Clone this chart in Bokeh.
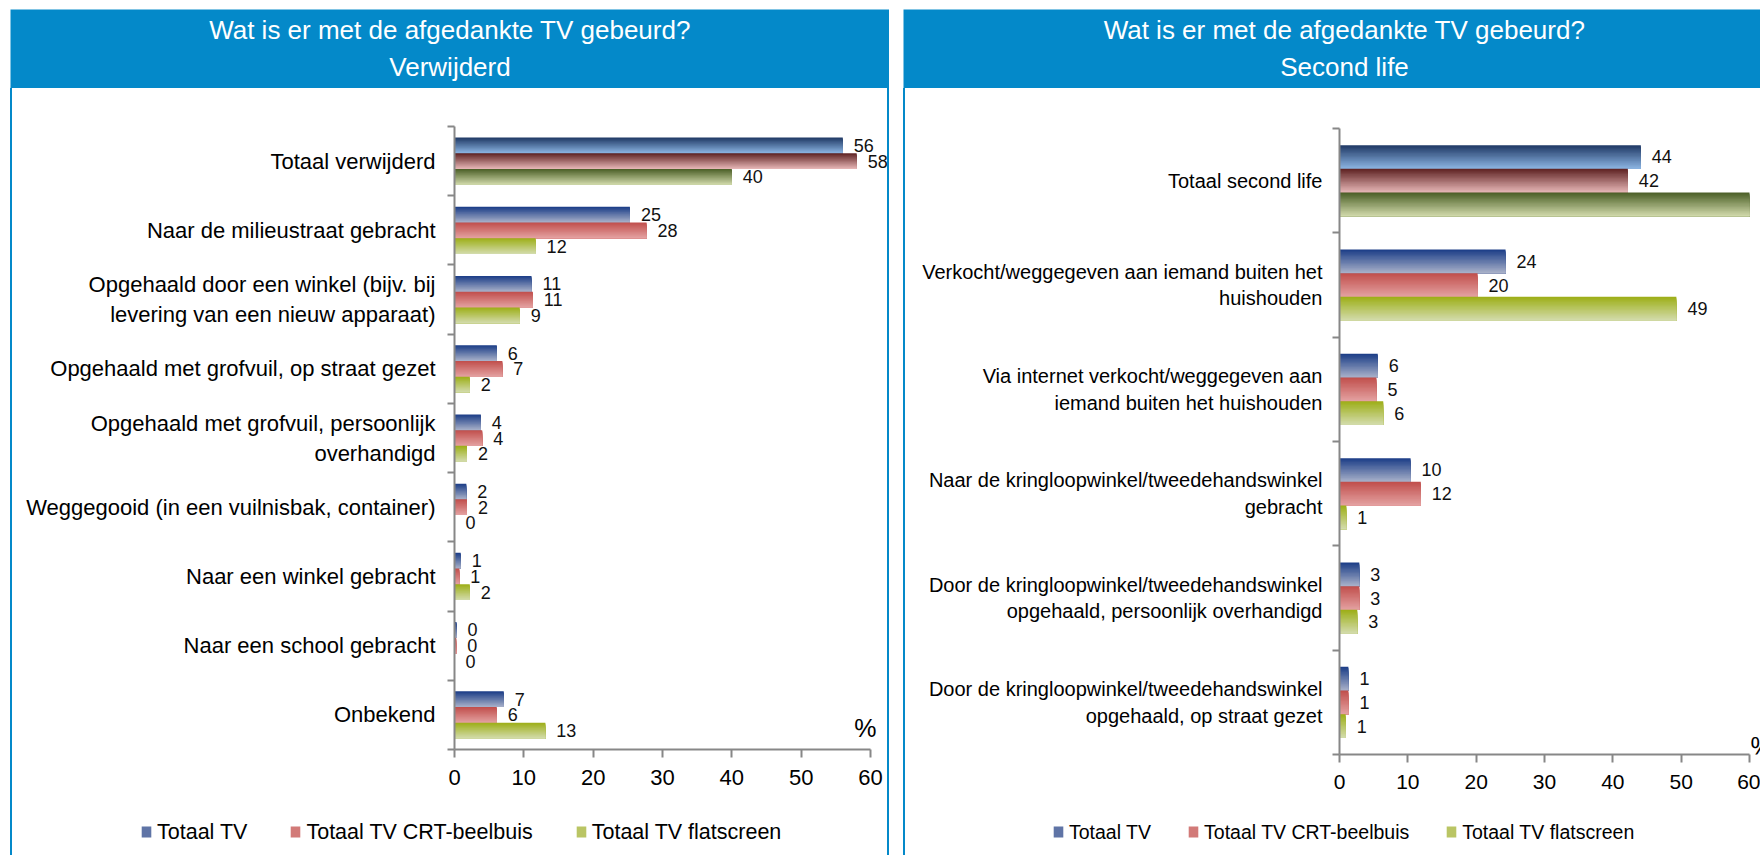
from bokeh.plotting import figure
from bokeh.models import (Range1d, FixedTicker, ColumnDataSource, Legend, LegendItem,
                          Label, Spacer)
from bokeh.layouts import row, column
from bokeh.embed import file_html
from bokeh.resources import INLINE
from bokeh.core.properties import value

# ---------------- data ----------------
title_main = "Wat is er met de afgedankte TV gebeurd?"
left_subtitle = "Verwijderd"
right_subtitle = "Second life"

series_names = ["Totaal TV", "Totaal TV CRT-beelbuis", "Totaal TV flatscreen"]

left_categories = [
    "Totaal verwijderd",
    "Naar de milieustraat gebracht",
    "Opgehaald door een winkel (bijv. bij\nlevering van een nieuw apparaat)",
    "Opgehaald met grofvuil, op straat gezet",
    "Opgehaald met grofvuil, persoonlijk\noverhandigd",
    "Weggegooid (in een vuilnisbak, container)",
    "Naar een winkel gebracht",
    "Naar een school gebracht",
    "Onbekend",
]
left_totaal_tv = [56.0, 25.3, 11.1, 6.1, 3.8, 1.7, 0.9, 0.3, 7.1]
left_crt = [58.0, 27.7, 11.3, 6.9, 4.0, 1.8, 0.7, 0.25, 6.1]
left_flat = [40.0, 11.7, 9.4, 2.2, 1.8, 0.0, 2.2, 0.0, 13.1]

right_categories = [
    "Totaal second life",
    "Verkocht/weggegeven aan iemand buiten het\nhuishouden",
    "Via internet verkocht/weggegeven aan\niemand buiten het huishouden",
    "Naar de kringloopwinkel/tweedehandswinkel\ngebracht",
    "Door de kringloopwinkel/tweedehandswinkel\nopgehaald, persoonlijk overhandigd",
    "Door de kringloopwinkel/tweedehandswinkel\nopgehaald, op straat gezet",
]
right_totaal_tv = [44.1, 24.3, 5.6, 10.4, 2.9, 1.3]
right_crt = [42.2, 20.2, 5.4, 11.9, 2.9, 1.3]
right_flat = [60.0, 49.3, 6.4, 1.0, 2.6, 0.9]

x_ticks = [0, 10, 20, 30, 40, 50, 60]
x_max = 60
unit_label = "%"

# ---------------- styles ----------------
BLUE = "#0489C9"
AXIS = "#878787"
FONT = "Liberation Sans"

# gradients (top colour, bottom colour) : first category uses a darker variant
grad_first = [((0x1F, 0x38, 0x64), (0x8D, 0xB6, 0xE4)),
              ((0x5E, 0x22, 0x22), (0xE8, 0xB8, 0xB8)),
              ((0x4A, 0x5E, 0x26), (0xD2, 0xDA, 0xAC))]
grad_rest = [((0x1A, 0x3C, 0x86), (0xAA, 0xB2, 0xCA)),
             ((0xC0, 0x4E, 0x4B), (0xE4, 0xA2, 0xA2)),
             ((0x9C, 0xAE, 0x16), (0xD4, 0xDC, 0xAE))]
legend_colors = ["#5F74A6", "#D27A78", "#BAC564"]
NSTRIPS = 18


def lerp(c1, c2, t):
    return "#%02x%02x%02x" % tuple(int(round(a + (b - a) * t)) for a, b in zip(c1, c2))


def no_align(fig):
    try:
        fig.frame_align = False
    except Exception:
        pass


def header(width, cx, subtitle):
    h = figure(width=width, height=79, x_range=Range1d(0, width), y_range=Range1d(0, 79),
               toolbar_location=None, output_backend="svg", min_border=0,
               x_axis_location=None, y_axis_location=None)
    no_align(h)
    h.grid.visible = False
    h.background_fill_color = BLUE
    h.border_fill_color = BLUE
    h.outline_line_color = None
    for yy, txt in ((59, title_main), (21.5, subtitle)):
        h.add_layout(Label(x=cx, y=yy, text=txt, text_align="center", text_baseline="middle",
                           text_color="white", text_font=FONT, text_font_size="26px"))
    return h


def chart(width, height, cats, series, mb, axis_px, cat_fs, tick_fs, val_fs,
          pct_align, pct_off, y_standoff):
    n = len(cats)
    frame_w = width - mb[0] - mb[1]
    x_end = x_max * frame_w / axis_px
    p = figure(width=width, height=height, x_range=Range1d(0, x_end), y_range=Range1d(0, n),
               toolbar_location=None, output_backend="svg",
               min_border_left=mb[0], min_border_right=mb[1], min_border_top=mb[2],
               min_border_bottom=mb[3])
    no_align(p)
    p.grid.visible = False
    p.outline_line_color = None
    p.background_fill_color = "white"
    p.border_fill_color = "white"

    centers = [n - i - 0.5 for i in range(n)]
    bar_h = 0.227
    for k, vals in enumerate(series):
        off = (1 - k) * bar_h
        for j in range(NSTRIPS):
            t = (j + 0.5) / NSTRIPS
            tops = [c + off + bar_h / 2 - j * bar_h / NSTRIPS for c in centers]
            bots = [c + off - bar_h / 2 for c in centers]
            cols = [lerp(*(grad_first[k] if i == 0 else grad_rest[k]), t) for i in range(n)]
            src = ColumnDataSource(dict(top=tops, bottom=bots, right=vals, color=cols))
            p.quad(left=0, right="right", top="top", bottom="bottom",
                   fill_color="color", line_color=None, source=src)
        lsrc = ColumnDataSource(dict(x=vals, y=[c + off for c in centers],
                                     text=[str(int(round(v))) for v in vals]))
        p.text(x="x", y="y", text="text", source=lsrc, x_offset=11, text_align="left",
               text_baseline="middle", text_font=value(FONT), text_font_size=val_fs,
               text_color="#111111")

    ya = p.yaxis[0]
    ya.ticker = FixedTicker(ticks=centers, minor_ticks=list(range(n + 1)))
    ya.major_label_overrides = {c: lab for c, lab in zip(centers, cats)}
    ya.major_tick_line_color = None
    ya.major_tick_out = 0
    ya.major_tick_in = 0
    ya.minor_tick_line_color = AXIS
    ya.minor_tick_line_width = 2
    ya.minor_tick_out = 7
    ya.minor_tick_in = 0
    ya.axis_line_color = AXIS
    ya.axis_line_width = 2
    ya.major_label_standoff = y_standoff
    ya.major_label_text_font = FONT
    ya.major_label_text_font_size = cat_fs
    ya.major_label_text_color = "black"

    xa = p.xaxis[0]
    xa.ticker = FixedTicker(ticks=x_ticks)
    xa.bounds = (0, x_max)
    xa.major_tick_line_color = AXIS
    xa.major_tick_line_width = 2
    xa.major_tick_out = 8
    xa.major_tick_in = 0
    xa.minor_tick_line_color = None
    xa.axis_line_color = AXIS
    xa.axis_line_width = 2
    xa.major_label_standoff = 12
    xa.major_label_text_font = FONT
    xa.major_label_text_font_size = tick_fs
    xa.major_label_text_color = "black"

    p.add_layout(Label(x=x_max, y=0, text=unit_label, text_align=pct_align,
                       text_baseline="alphabetic", x_offset=pct_off[0], y_offset=pct_off[1],
                       text_font=FONT, text_font_size="25px", text_color="black"))
    return p


def legend_fig(width, height, left_margin, fs, spacing, series):
    lf = figure(width=width, height=height, x_range=Range1d(0, 1), y_range=Range1d(0, 1),
                toolbar_location=None, output_backend="svg", min_border=0,
                x_axis_location=None, y_axis_location=None)
    no_align(lf)
    lf.grid.visible = False
    lf.outline_line_color = None
    items = []
    for nm, col, vals in zip(series_names, legend_colors, series):
        # zero-height proxy bars: invisible, only give the legend its swatch colour
        r = lf.hbar(y=0, left=0, right=vals, height=0, fill_color=col, line_color=None)
        items.append(LegendItem(label=nm, renderers=[r]))
    leg = Legend(items=items, orientation="horizontal", location="left",
                 glyph_width=12, glyph_height=14, label_standoff=5, spacing=spacing,
                 padding=0, margin=left_margin, border_line_color=None,
                 background_fill_alpha=0,
                 label_text_font=FONT, label_text_font_size=fs, label_text_color="black")
    lf.add_layout(leg)
    return lf


CH = 720   # chart canvas height
LH = 47    # legend strip height

left_series = [left_totaal_tv, left_crt, left_flat]
right_series = [right_totaal_tv, right_crt, right_flat]

left_chart = chart(875, CH, left_categories, left_series,
                   (442, 0, 38, 59), 416, "22px", "22px", "18px", "right", (6, 22), 12)
right_chart = chart(855, CH, right_categories, right_series,
                    (434, 0, 40, 54), 410, "20px", "21px", "18px", "left", (1, 9), 10)

left_leg = legend_fig(875, LH, 128, "21.5px", 42, left_series)
right_leg = legend_fig(855, LH, 147, "19.5px", 36, right_series)


def border(h):
    return Spacer(width=2, height=h, styles={"background-color": BLUE})


left_panel = column(header(879, 439.5, left_subtitle),
                    row(border(CH), left_chart, border(CH)),
                    row(border(LH), left_leg, border(LH)))
right_panel = column(header(857, 441, right_subtitle),
                     row(border(CH), right_chart),
                     row(border(LH), right_leg))

page = column(Spacer(height=9, width=10),
              row(Spacer(width=10, height=10), left_panel, Spacer(width=14, height=10),
                  right_panel))

open("out.html", "w").write(file_html(page, INLINE))
